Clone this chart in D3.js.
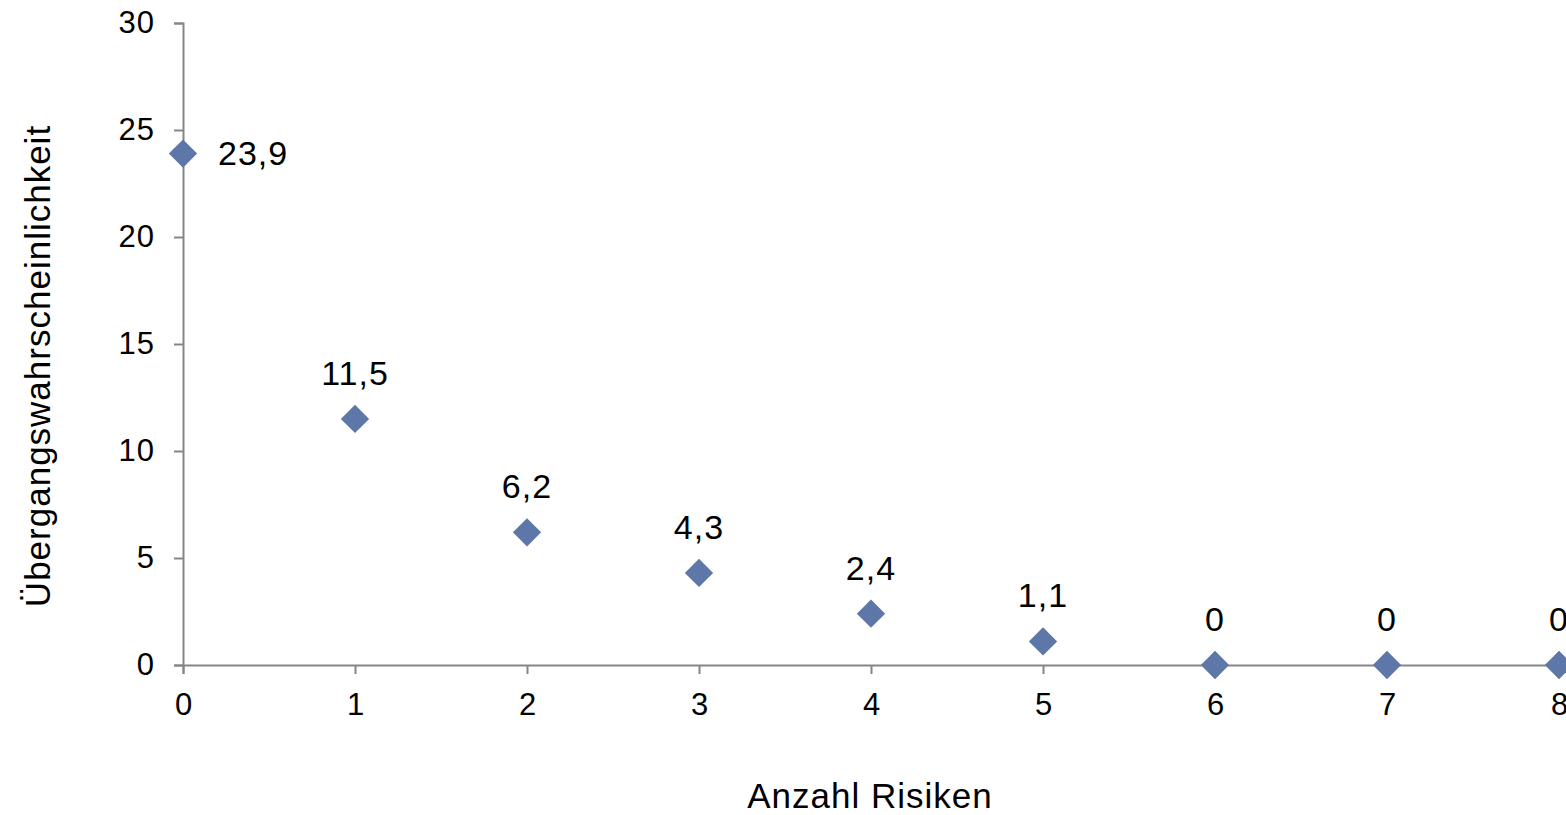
<!DOCTYPE html>
<html>
<head>
<meta charset="utf-8">
<script src="https://cdn.jsdelivr.net/npm/d3@7"></script>
<style>
  html, body { margin: 0; padding: 0; background: #fff; }
  svg { display: block; font-family: "Liberation Sans", Arial, sans-serif; }
</style>
</head>
<body>
<svg id="chart" width="1566" height="815"></svg>
<script>
// Anzahl Risiken vs. Übergangswahrscheinlichkeit
const risks = [0, 1, 2, 3, 4, 5, 6, 7, 8];
const probability = [23.9, 11.5, 6.2, 4.3, 2.4, 1.1, 0, 0, 0];
const labels = ["23,9", "11,5", "6,2", "4,3", "2,4", "1,1", "0", "0", "0"];
const xTicks = [0, 1, 2, 3, 4, 5, 6, 7, 8];
const yTicks = [0, 5, 10, 15, 20, 25, 30];

const svg = d3.select("#chart");
const axisColor = "#868686";
const markColor = "#5D77A8";
const font = "Liberation Sans, Arial, sans-serif";

const x = d3.scaleLinear().domain([0, 8]).range([183, 1559]);
const y = d3.scaleLinear().domain([0, 30]).range([665, 23]);

// Y axis
const yAxis = svg.append("g")
  .attr("transform", `translate(${x(0)},0)`)
  .call(d3.axisLeft(y).tickValues(yTicks).tickSize(9).tickPadding(19).tickFormat(d3.format("d")));
yAxis.select(".domain").attr("stroke", axisColor).attr("stroke-width", 2);
yAxis.selectAll(".tick line").attr("stroke", axisColor).attr("stroke-width", 2);
yAxis.selectAll(".tick text").attr("fill", "#000").attr("font-size", 31)
  .attr("font-family", font).attr("letter-spacing", 1);

// X axis
const xAxis = svg.append("g")
  .attr("transform", `translate(0,${y(0)})`)
  .call(d3.axisBottom(x).tickValues(xTicks).tickSize(9).tickPadding(19).tickFormat(d3.format("d")));
xAxis.select(".domain").attr("stroke", axisColor).attr("stroke-width", 2);
xAxis.selectAll(".tick line").attr("stroke", axisColor).attr("stroke-width", 2);
xAxis.selectAll(".tick text").attr("fill", "#000").attr("font-size", 31)
  .attr("font-family", font);

// Axis titles
svg.append("text")
  .attr("x", 870).attr("y", 808)
  .attr("text-anchor", "middle")
  .attr("font-size", 35)
  .attr("letter-spacing", 1)
  .text("Anzahl Risiken");

svg.append("text")
  .attr("transform", "translate(50,366) rotate(-90)")
  .attr("text-anchor", "middle")
  .attr("font-size", 35)
  .attr("letter-spacing", 1)
  .text("Übergangswahrscheinlichkeit");

// Diamond markers
const diamond = d3.symbol().type(d3.symbolSquare).size(400);
svg.append("g").selectAll("path")
  .data(risks)
  .join("path")
  .attr("d", diamond)
  .attr("transform", (d, i) => `translate(${x(d)},${y(probability[i])}) rotate(45)`)
  .attr("fill", markColor);

// Value labels
svg.append("g").selectAll("text")
  .data(risks)
  .join("text")
  .attr("x", (d, i) => i === 0 ? x(d) + 35 : x(d))
  .attr("y", (d, i) => i === 0 ? y(probability[i]) + 11 : y(probability[i]) - 34)
  .attr("text-anchor", (d, i) => i === 0 ? "start" : "middle")
  .attr("font-size", 34)
  .attr("letter-spacing", 1)
  .attr("fill", "#000")
  .text((d, i) => labels[i]);
</script>
</body>
</html>
